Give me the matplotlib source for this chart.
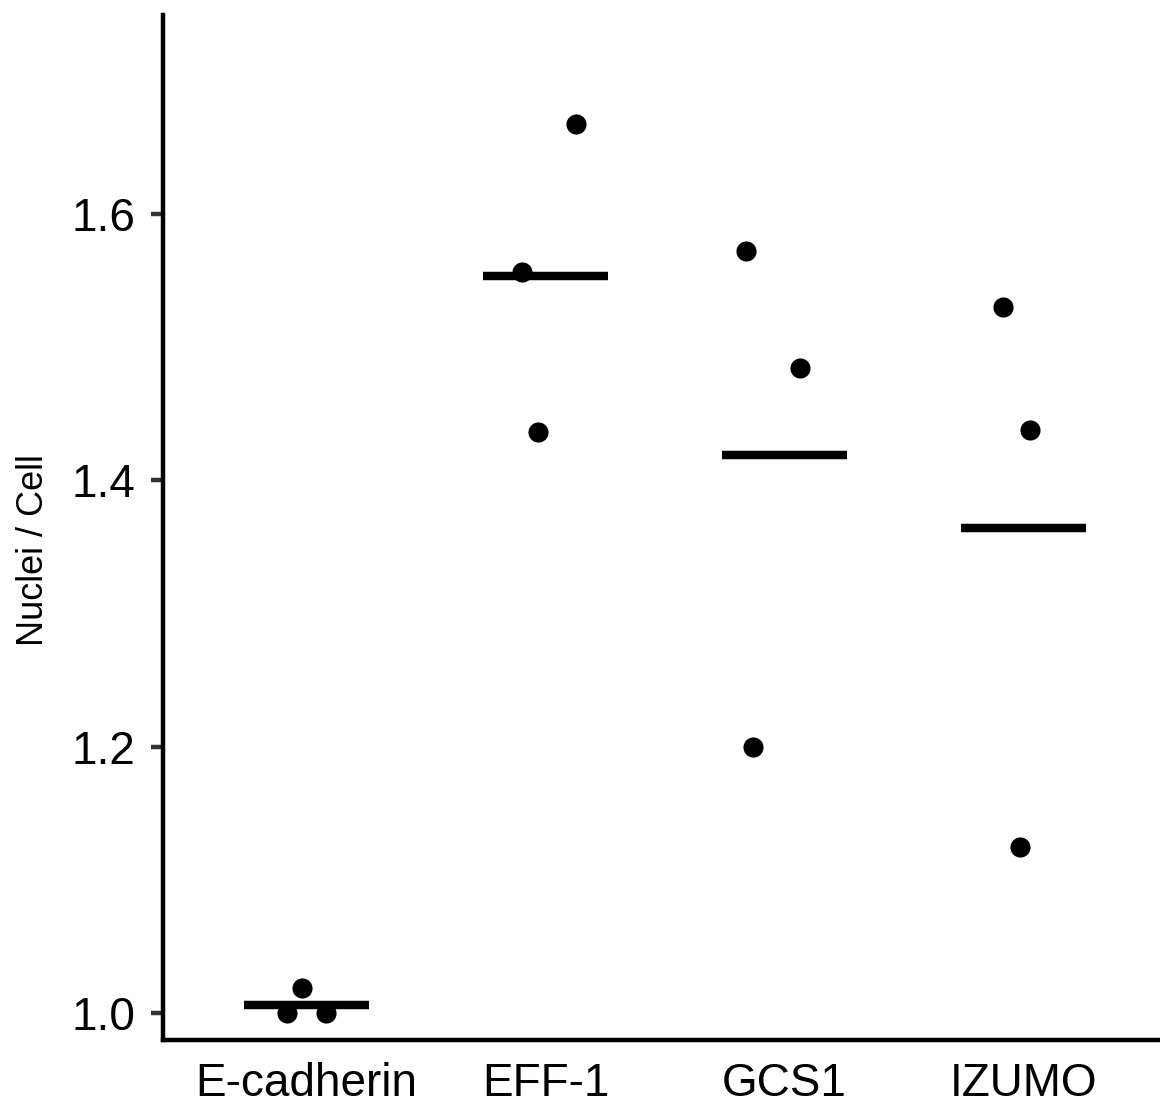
import numpy as np
import matplotlib
matplotlib.use("Agg")
import matplotlib.pyplot as plt

plt.rcParams['font.family'] = ['Liberation Sans', 'DejaVu Sans']

# data
groups = ["E-cadherin", "EFF-1", "GCS1", "IZUMO"]
values = [
    [1.000, 1.019, 1.000],
    [1.556, 1.436, 1.667],
    [1.572, 1.484, 1.200],
    [1.530, 1.438, 1.125],
]
# horizontal jitter of each point (category units)
jitter = [
    [-0.08, -0.02, 0.084],
    [-0.10, -0.033, 0.126],
    [-0.16, 0.063, -0.13],
    [-0.084, 0.025, -0.013],
]

fig = plt.figure(figsize=(11.6, 11.1), dpi=100)
ax = fig.add_axes([0.1405, 0.0631, 0.8655, 0.9234])

for i, (vals, jit) in enumerate(zip(values, jitter)):
    pos = i + 1
    ax.scatter(pos + np.array(jit), vals, s=210, color='black', zorder=3, linewidths=0)
    m = np.mean(vals)
    ax.plot([pos - 0.26, pos + 0.26], [m, m], color='black', lw=6.1, solid_capstyle='butt', zorder=2)

ax.set_xlim(0.4, 4.6)
ax.set_ylim(0.98, 1.749)
ax.set_xticks(range(1, len(groups) + 1))
ax.set_xticklabels(groups)
ax.set_yticks([1.0, 1.2, 1.4, 1.6])
ax.set_yticklabels(["1.0", "1.2", "1.4", "1.6"])
ax.set_ylabel("Nuclei / Cell", fontsize=26)
ax.yaxis.set_label_coords(-0.112, 0.478)

for side in ['top', 'right']:
    ax.spines[side].set_visible(False)
for side in ['left', 'bottom']:
    ax.spines[side].set_linewidth(3.2)
    ax.spines[side].set_color('black')
    ax.spines[side].set_capstyle('projecting')

ax.tick_params(axis='y', length=9, width=3.2, color='#333333', labelsize=33, labelcolor='black', pad=11)
ax.tick_params(axis='x', length=0, labelsize=33, labelcolor='black', pad=16)

fig.savefig("out.png", dpi=100)
